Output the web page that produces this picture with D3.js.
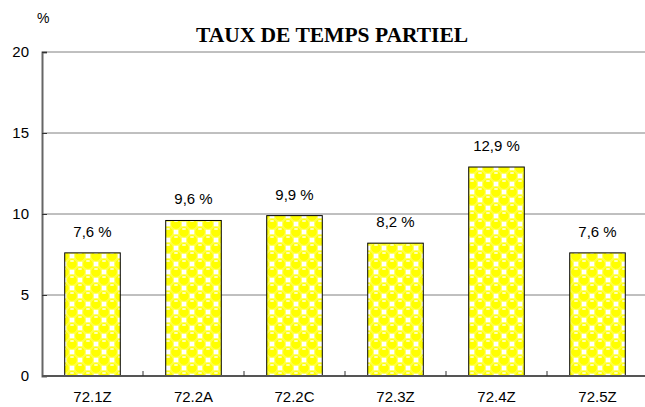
<!DOCTYPE html>
<html>
<head>
<meta charset="utf-8">
<script src="https://cdn.jsdelivr.net/npm/d3@7"></script>
<style>
  body { margin: 0; background: #fff; }
  svg { display: block; }
</style>
</head>
<body>
<div id="chart"></div>
<script>
const categories = ["72.1Z", "72.2A", "72.2C", "72.3Z", "72.4Z", "72.5Z"];
const values = [7.6, 9.6, 9.9, 8.2, 12.9, 7.6];
const valueLabels = ["7,6 %", "9,6 %", "9,9 %", "8,2 %", "12,9 %", "7,6 %"];
const yTicks = [0, 5, 10, 15, 20];

const width = 645, height = 407;
const plotLeft = 42, plotRight = 648, plotTop = 52, plotBottom = 376;

const svg = d3.select("#chart").append("svg")
    .attr("width", width)
    .attr("height", height);

// yellow bubble pattern
const defs = svg.append("defs");
const pat = defs.append("pattern")
    .attr("id", "bubbles")
    .attr("patternUnits", "userSpaceOnUse")
    .attr("width", 16)
    .attr("height", 16);
pat.append("rect").attr("width", 16).attr("height", 16).attr("fill", "#ffff00");
for (const [px, py] of [[8, 0], [8, 16], [0, 8], [16, 8]]) {
    pat.append("rect").attr("x", px - 2.5).attr("y", py - 2.5)
        .attr("width", 5).attr("height", 5).attr("fill", "#fff");
}
for (const [px, py] of [[0, 0], [16, 0], [0, 16], [16, 16], [8, 8]]) {
    pat.append("circle").attr("cx", px).attr("cy", py).attr("r", 5.4)
        .attr("fill", "#ffff00").attr("stroke", "#ffff80").attr("stroke-width", 0.7);
    pat.append("ellipse").attr("cx", px).attr("cy", py - 3).attr("rx", 2.2).attr("ry", 0.9)
        .attr("fill", "#ffffc0");
}

const x = d3.scaleBand()
    .domain(categories)
    .range([plotLeft, plotRight])
    .paddingInner(0.45)
    .paddingOuter(0.225);

const y = d3.scaleLinear()
    .domain([0, 20])
    .range([plotBottom, plotTop]);

// gridlines
svg.append("g")
    .selectAll("line")
    .data(yTicks.filter(d => d > 0))
    .join("line")
    .attr("x1", plotLeft).attr("x2", plotRight)
    .attr("y1", d => y(d)).attr("y2", d => y(d))
    .attr("stroke", "#808080")
    .attr("stroke-width", 1);

// y axis
const yAxis = svg.append("g")
    .attr("transform", `translate(${plotLeft},0)`)
    .call(d3.axisRight(y).tickValues(yTicks).tickSize(5).tickFormat(""));
yAxis.select(".domain").attr("stroke", "#666").attr("stroke-width", 2);
yAxis.selectAll(".tick line").attr("stroke", "#333");

svg.append("g")
    .selectAll("text")
    .data(yTicks)
    .join("text")
    .attr("x", 29)
    .attr("y", d => y(d) + 5)
    .attr("text-anchor", "end")
    .attr("font-family", "Arial, 'Liberation Sans', sans-serif")
    .attr("font-size", 15)
    .text(d => d);

svg.append("text")
    .attr("x", 37).attr("y", 23)
    .attr("font-family", "Arial, 'Liberation Sans', sans-serif")
    .attr("font-size", 14)
    .text("%");

// bars
svg.append("g")
    .selectAll("rect")
    .data(values)
    .join("rect")
    .attr("x", (d, i) => x(categories[i]))
    .attr("y", d => y(d))
    .attr("width", x.bandwidth())
    .attr("height", d => y(0) - y(d))
    .attr("fill", "url(#bubbles)")
    .attr("stroke", "#000")
    .attr("stroke-width", 1);

// x axis
const step = x.step();
const xAxis = svg.append("g")
    .attr("transform", `translate(0,${plotBottom})`);
xAxis.append("line")
    .attr("x1", plotLeft).attr("x2", plotRight)
    .attr("stroke", "#555").attr("stroke-width", 2);
xAxis.selectAll(".tk")
    .data(d3.range(1, categories.length))
    .join("line")
    .attr("class", "tk")
    .attr("x1", i => plotLeft + i * step).attr("x2", i => plotLeft + i * step)
    .attr("y1", 0).attr("y2", -5)
    .attr("stroke", "#333");

svg.append("g")
    .selectAll("text")
    .data(categories)
    .join("text")
    .attr("x", d => x(d) + x.bandwidth() / 2)
    .attr("y", 402)
    .attr("text-anchor", "middle")
    .attr("font-family", "Arial, 'Liberation Sans', sans-serif")
    .attr("font-size", 15)
    .text(d => d);

// value labels
svg.append("g")
    .selectAll("text")
    .data(values)
    .join("text")
    .attr("x", (d, i) => x(categories[i]) + x.bandwidth() / 2)
    .attr("y", d => y(d) - 16)
    .attr("text-anchor", "middle")
    .attr("font-family", "Arial, 'Liberation Sans', sans-serif")
    .attr("font-size", 15)
    .text((d, i) => valueLabels[i]);

// title
svg.append("text")
    .attr("x", 332).attr("y", 42)
    .attr("text-anchor", "middle")
    .attr("font-family", "'Times New Roman', 'Liberation Serif', serif")
    .attr("font-weight", "bold")
    .attr("font-size", 21.5)
    .text("TAUX DE TEMPS PARTIEL");
</script>
</body>
</html>
